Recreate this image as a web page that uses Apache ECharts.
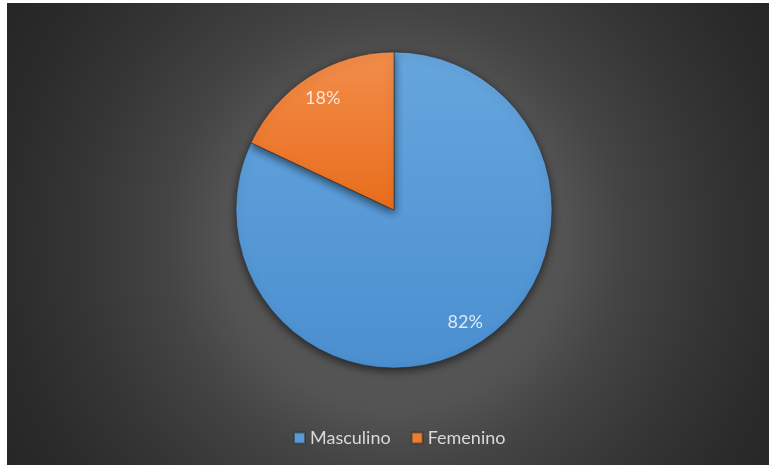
<!DOCTYPE html>
<html>
<head>
<meta charset="utf-8">
<script src="https://cdn.jsdelivr.net/npm/echarts@6/dist/echarts.min.js"></script>
<style>
  html, body { margin: 0; padding: 0; background: #ffffff; }
  #chart { position: absolute; left: 7px; top: 3px; width: 762px; height: 462px; }
</style>
</head>
<body>
<div id="chart"></div>
<script>
// Gender split
const categories = ['Masculino', 'Femenino'];
const shares = [82, 18];

const sliceColors = [
  { type: 'linear', x: 0, y: 0, x2: 0, y2: 1,
    colorStops: [{ offset: 0, color: '#66a6de' }, { offset: 1, color: '#4b8fd0' }] },
  { type: 'linear', x: 0, y: 0, x2: 0, y2: 1,
    colorStops: [{ offset: 0, color: '#f28d4b' }, { offset: 1, color: '#e96d1c' }] }
];
const legendColors = ['#5b9bd5', '#ed7d31'];

const pieData = categories.map((name, i) => ({
  name, value: shares[i], itemStyle: { color: sliceColors[i] }
}));
const labelData = categories.map((name, i) => ({ name, value: shares[i] }));

const chart = echarts.init(document.getElementById('chart'), null, { renderer: 'canvas' });
chart.setOption({
  backgroundColor: {
    type: 'radial', x: 387, y: 237, r: 450, global: true,
    colorStops: [
      { offset: 0, color: '#5c5c5c' },
      { offset: 0.38, color: '#535353' },
      { offset: 0.51, color: '#444444' },
      { offset: 0.69, color: '#363636' },
      { offset: 0.87, color: '#2b2b2b' },
      { offset: 1, color: '#262626' }
    ]
  },
  animation: false,
  legend: {
    data: categories.map((name, i) => ({ name, itemStyle: { color: legendColors[i] } })),
    bottom: 13,
    left: 281,
    icon: 'rect',
    itemWidth: 11,
    itemHeight: 11,
    itemGap: 20,
    textStyle: { color: '#d9d9d9', fontSize: 18, fontFamily: 'Lato' }
  },
  series: [
    {
      type: 'pie',
      center: [387, 207],
      radius: [0, 158],
      startAngle: 90,
      clockwise: true,
      silent: true,
      label: { show: false },
      labelLine: { show: false },
      itemStyle: {
        borderColor: 'rgba(45,45,45,0.55)',
        borderWidth: 1,
        shadowBlur: 8,
        shadowOffsetY: 3,
        shadowColor: 'rgba(0,0,0,0.55)'
      },
      data: pieData
    },
    {
      // percentage labels placed along an outer ring
      type: 'pie',
      center: [387, 207],
      radius: [102, 158],
      startAngle: 90,
      clockwise: true,
      silent: true,
      itemStyle: { color: 'rgba(0,0,0,0)', borderWidth: 0 },
      label: {
        show: true,
        position: 'inside',
        formatter: p => p.value + '%',
        color: 'rgba(255,255,255,0.8)',
        fontSize: 18,
        fontFamily: 'Lato'
      },
      labelLine: { show: false },
      data: labelData
    }
  ]
});
</script>
</body>
</html>
